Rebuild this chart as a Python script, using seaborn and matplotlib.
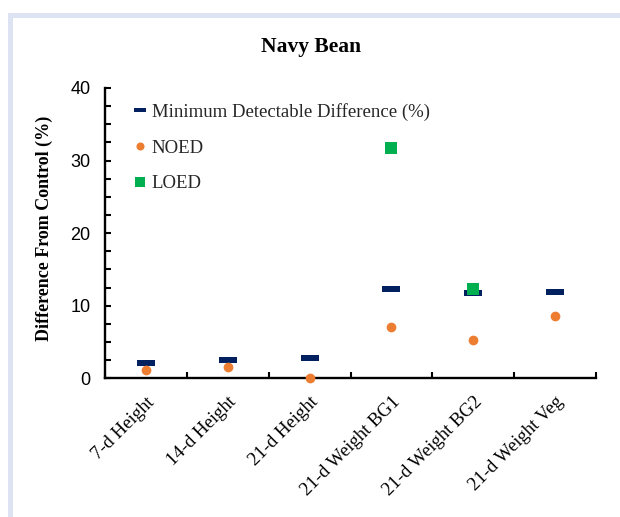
import numpy as np
import pandas as pd
import matplotlib
matplotlib.use("Agg")
import matplotlib.pyplot as plt
from matplotlib.patches import Rectangle
from matplotlib.path import Path
from matplotlib.ticker import MultipleLocator, FixedLocator
from matplotlib.lines import Line2D
import seaborn as sns

# Endpoints and measured differences from control (%)
categories = ["7-d Height", "14-d Height", "21-d Height",
              "21-d Weight BG1", "21-d Weight BG2", "21-d Weight Veg"]
mdd_values = [2.1, 2.5, 2.85, 12.3, 11.7, 11.9]
noed_values = [1.1, 1.5, 0.0, 7.0, 5.3, 8.6]
loed_values = [np.nan, np.nan, np.nan, 31.7, 12.3, np.nan]

series_names = ["Minimum Detectable Difference (%)", "NOED", "LOED"]
series_colors = ["#002060", "#ED7D31", "#00B050"]

mdd_df = pd.DataFrame({"endpoint": categories, "value": mdd_values})
noed_df = pd.DataFrame({"endpoint": categories, "value": noed_values})
loed_df = pd.DataFrame({"endpoint": categories, "value": loed_values}).dropna()

sns.set_theme(style="white")
serif = ["Liberation Serif", "DejaVu Serif"]
sans = ["Liberation Sans", "DejaVu Sans"]

fig = plt.figure(figsize=(6.2, 5.17), dpi=100)
ax = fig.add_axes([0.1694, 0.2683, 0.7919, 0.5615])

# flat bar marker for the minimum detectable difference
bar_marker = Path([(-1, -0.3), (1, -0.3), (1, 0.3), (-1, 0.3), (-1, -0.3)],
                  [Path.MOVETO, Path.LINETO, Path.LINETO, Path.LINETO, Path.CLOSEPOLY])
legend_bar = Path([(-1, -0.25), (1, -0.25), (1, 0.25), (-1, 0.25), (-1, -0.25)],
                  [Path.MOVETO, Path.LINETO, Path.LINETO, Path.LINETO, Path.CLOSEPOLY])

sns.stripplot(data=mdd_df, x="endpoint", y="value", order=categories, jitter=False,
              marker=bar_marker, size=12.5, color=series_colors[0], linewidth=0,
              ax=ax, zorder=3, clip_on=False)
sns.stripplot(data=noed_df, x="endpoint", y="value", order=categories, jitter=False,
              marker="o", size=7.0, color=series_colors[1], linewidth=0,
              ax=ax, zorder=4, clip_on=False)
sns.stripplot(data=loed_df, x="endpoint", y="value", order=categories, jitter=False,
              marker="s", size=8.4, color=series_colors[2], linewidth=0,
              ax=ax, zorder=5, clip_on=False)

ax.set_xlim(-0.5, len(categories) - 0.5)
ax.set_ylim(0, 40)
ax.set_xlabel("")
ax.set_ylabel("Difference From Control (%)", fontfamily=serif, fontweight="bold",
              fontsize=13, color="black")
ax.yaxis.set_label_coords(-0.106, 0.517)

sns.despine(ax=ax)
for side in ("left", "bottom"):
    ax.spines[side].set_color("black")
    ax.spines[side].set_linewidth(1.7)

ax.yaxis.set_major_locator(MultipleLocator(10))
ax.yaxis.set_minor_locator(MultipleLocator(2.5))
ax.tick_params(axis="y", which="both", direction="in", length=4, width=1.5,
               colors="black", left=True, pad=10.5)
ax.tick_params(axis="y", which="major", labelsize=13)
for lab in ax.get_yticklabels():
    lab.set_fontfamily(sans)

ax.xaxis.set_minor_locator(FixedLocator(np.arange(-0.5, len(categories), 1.0)))
ax.tick_params(axis="x", which="minor", direction="in", length=4, width=1.5,
               colors="black", bottom=True)
ax.tick_params(axis="x", which="major", length=0, pad=11, labelsize=13.5)
ax.set_xticks(range(len(categories)))
ax.set_xticklabels(categories, rotation=45, ha="right", rotation_mode="anchor",
                   fontfamily=serif, fontsize=13.5, color="black")

handles = [
    Line2D([], [], linestyle="none", marker=legend_bar, markersize=8.7,
           color=series_colors[0], markeredgewidth=0),
    Line2D([], [], linestyle="none", marker="o", markersize=5.8,
           color=series_colors[1], markeredgewidth=0),
    Line2D([], [], linestyle="none", marker="s", markersize=7.2,
           color=series_colors[2], markeredgewidth=0),
]
ax.legend(handles, series_names, loc="upper left", bbox_to_anchor=(0.044, 0.975),
          frameon=False, handlelength=0.65, handletextpad=0.3, labelspacing=1.0,
          borderaxespad=0, prop={"family": serif, "size": 13.5})

fig.text(0.502, 1 - 47 / 517, "Navy Bean", ha="center", va="center",
         fontfamily=serif, fontweight="bold", fontsize=15.5, color="black")

# light outer frame
fig.patches.append(Rectangle((9.5 / 620, -0.2), 1.2, 1.2 - 14.5 / 517,
                             transform=fig.transFigure, fill=False,
                             edgecolor="#dde3f3", linewidth=3.6, zorder=0))

fig.savefig("out.png", dpi=100, facecolor="white")
